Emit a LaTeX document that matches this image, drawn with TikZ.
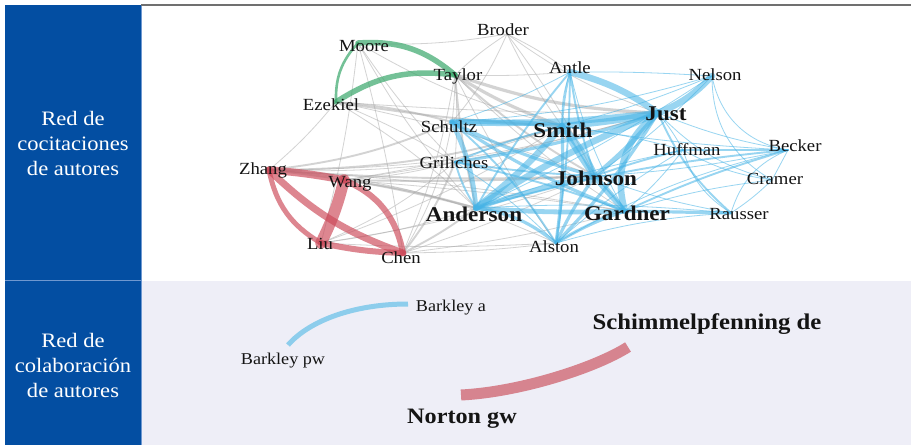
\documentclass[tikz,border=0pt]{standalone}
\usepackage{fontspec}
\setmainfont{Liberation Serif}[FakeStretch=1.1]
\definecolor{panelblue}{HTML}{034EA2}
\definecolor{panelline}{HTML}{6F98D0}
\definecolor{lavender}{HTML}{EEEEF7}
\definecolor{topline}{HTML}{707070}
\definecolor{grayc}{HTML}{A8A8A8}
\definecolor{bluec}{HTML}{45B3E6}
\definecolor{redc}{HTML}{CC4858}
\definecolor{greenc}{HTML}{33A566}
\definecolor{txt}{HTML}{141414}
\definecolor{bkblue}{HTML}{8DCDEC}
\definecolor{bkred}{HTML}{D6848F}
\tikzset{
  ed/.style={line cap=round, opacity=.5},
  gr/.style={ed, draw=grayc, opacity=.5},
  bl/.style={ed, draw=bluec, opacity=.55},
  rd/.style={ed, draw=redc, opacity=.66},
  gn/.style={ed, draw=greenc, opacity=.68},
  w1/.style={line width=0.8pt},
  w2/.style={line width=1.9pt},
  w3/.style={line width=3.2pt},
  w4/.style={line width=4.8pt},
  w5/.style={line width=6.5pt},
  w6/.style={line width=11pt},
  lbl/.style={anchor=base, inner sep=0pt, text=txt, font=\fontsize{17}{20}\selectfont},
  blbl/.style={anchor=base, inner sep=0pt, text=txt, font=\fontsize{21}{24}\selectfont\bfseries},
  side/.style={align=center, text=white, inner sep=0pt, font=\fontsize{20.5}{25}\selectfont}
}
\begin{document}
\begin{tikzpicture}[x=1pt,y=1pt]
\useasboundingbox (0,0) rectangle (911,-445);
% panels
\fill[white] (0,0) rectangle (911,-445);
\fill[lavender] (141,-281) rectangle (911,-445);
\fill[panelblue] (5,-5) rectangle (141,-445);
\draw[panelline, line width=1pt] (5,-280) -- (141,-280);
\draw[panelline, line width=0.8pt] (141,-5) -- (141,-445);
\draw[topline, line width=1.4pt] (141,-5) -- (911,-5);
\node[side] (s1) at (73,-143) {Red de\\cocitaciones\\de autores};
\node[side] (s2) at (73,-365) {Red de\\colaboración\\de autores};
% vertices
\coordinate (vBroder) at (507,-34);
\coordinate (vMoore) at (358,-43);
\coordinate (vTaylor) at (455,-75);
\coordinate (vEzekiel) at (336,-102);
\coordinate (vAntle) at (570,-72);
\coordinate (vNelson) at (712,-76);
\coordinate (vJust) at (658,-113);
\coordinate (vSchultz) at (452,-122);
\coordinate (vSmith) at (562,-126);
\coordinate (vHuffman) at (683,-150);
\coordinate (vBecker) at (788,-150);
\coordinate (vGriliches) at (455,-162);
\coordinate (vZhang) at (269,-170);
\coordinate (vWang) at (344,-180);
\coordinate (vJohnson) at (595,-176);
\coordinate (vCramer) at (772,-180);
\coordinate (vAnderson) at (476,-208);
\coordinate (vGardner) at (625,-211);
\coordinate (vRausser) at (731,-213);
\coordinate (vLiu) at (321,-243);
\coordinate (vAlston) at (556,-243);
\coordinate (vChen) at (403,-253);
% gray edges
\foreach \a/\b/\w/\bend in {
 Broder/Moore/w1/6, Broder/Taylor/w1/-5, Broder/Antle/w1/5, Broder/Smith/w1/-5, Broder/Just/w1/-8,
 Broder/Johnson/w1/5, Broder/Schultz/w1/8,
 Moore/Chen/w1/3, Moore/Griliches/w1/-5, Moore/Anderson/w1/-6, Moore/Smith/w1/-8, Moore/Liu/w1/4,
 Taylor/Smith/w3/-6, Taylor/Just/w3/-8, Taylor/Johnson/w2/-6, Taylor/Anderson/w2/-4, Taylor/Gardner/w1/-6,
 Taylor/Alston/w1/-4, Taylor/Schultz/w1/3, Taylor/Griliches/w1/4, Taylor/Antle/w1/-3, Taylor/Chen/w1/6,
 Ezekiel/Schultz/w2/5, Ezekiel/Smith/w2/-3, Ezekiel/Just/w1/-2, Ezekiel/Zhang/w1/5, Ezekiel/Johnson/w1/4,
 Ezekiel/Griliches/w1/4, Ezekiel/Anderson/w1/6,
 Zhang/Schultz/w2/-8, Zhang/Smith/w2/-8, Zhang/Just/w1/-8, Zhang/Griliches/w1/-4, Zhang/Johnson/w2/-3,
 Zhang/Anderson/w2/4, Zhang/Gardner/w1/3, Zhang/Alston/w1/10,
 Wang/Griliches/w1/-5, Wang/Smith/w1/-5, Wang/Johnson/w2/-2, Wang/Anderson/w2/4, Wang/Just/w1/-4, Wang/Gardner/w1/2,
 Chen/Griliches/w2/-8, Chen/Anderson/w2/-5, Chen/Alston/w1/-3, Chen/Schultz/w1/-10, Chen/Johnson/w1/-4, Chen/Gardner/w1/-4,
 Liu/Anderson/w1/-5, Liu/Griliches/w1/-8, Liu/Johnson/w1/-5, Liu/Alston/w1/-3, Liu/Smith/w1/-6}
  \draw[gr,\w] (v\a) to[bend left=\bend] (v\b);
% blue edges
\foreach \a/\b/\w/\bend in {
 Schultz/Just/w5/-4, Schultz/Smith/w4/3, Schultz/Johnson/w3/-6, Schultz/Anderson/w4/10, Schultz/Gardner/w3/-6,
 Schultz/Alston/w2/8, Schultz/Antle/w1/-5,
 Griliches/Just/w3/-5, Griliches/Smith/w2/4, Griliches/Johnson/w2/-3, Griliches/Gardner/w2/4, Griliches/Anderson/w2/-8,
 Griliches/Alston/w1/6,
 Smith/Just/w5/-3, Smith/Johnson/w5/8, Smith/Anderson/w5/6, Smith/Gardner/w4/-8, Smith/Alston/w3/5,
 Smith/Antle/w2/5, Smith/Huffman/w1/4, Smith/Becker/w1/-3,
 Just/Johnson/w4/5, Just/Anderson/w5/-5, Just/Gardner/w5/-35, Just/Alston/w3/6, Antle/Just/w5/10,
 Just/Nelson/w5/-12, Just/Huffman/w1/5, Just/Becker/w1/-6, Just/Cramer/w1/-15, Just/Rausser/w2/-12,
 Antle/Nelson/w1/2, Antle/Johnson/w2/-5, Antle/Alston/w2/4, Antle/Anderson/w2/-5, Antle/Gardner/w1/-8,
 Antle/Smith/w1/-10,
 Nelson/Smith/w1/4, Nelson/Johnson/w1/5, Nelson/Becker/w1/-35, Nelson/Cramer/w1/-30, Nelson/Schultz/w1/6,
 Nelson/Anderson/w1/4,
 Johnson/Anderson/w4/-3, Johnson/Gardner/w3/5, Johnson/Alston/w3/-5, Johnson/Huffman/w2/3, Johnson/Becker/w1/-4,
 Johnson/Rausser/w1/-5,
 Anderson/Gardner/w4/-3, Anderson/Alston/w3/15, Anderson/Rausser/w1/4, Anderson/Becker/w2/5, Anderson/Huffman/w1/4,
 Gardner/Alston/w3/-6, Gardner/Rausser/w3/0, Gardner/Becker/w2/4, Gardner/Huffman/w1/-6, Gardner/Cramer/w1/5,
 Alston/Rausser/w1/6, Alston/Becker/w1/8, Alston/Huffman/w1/5,
 Huffman/Becker/w2/0, Huffman/Rausser/w1/-20, Becker/Rausser/w1/-25, Becker/Cramer/w1/0, Cramer/Rausser/w1/5,
 Huffman/Cramer/w1/-10}
  \draw[bl,\w] (v\a) to[bend left=\bend] (v\b);
% green edges
\draw[gn,line width=5.5pt] (vMoore) to[bend left=22] (vTaylor);
\draw[gn,line width=2.6pt] (vMoore) to[bend right=22] (vEzekiel);
\draw[gn,line width=5.5pt] (vEzekiel) to[bend left=20] (vTaylor);
% red edges
\draw[rd,line width=7.5pt] (vZhang) to[bend left=3] (vWang);
\draw[rd,line width=6pt] (vWang) to[bend left=28] (vChen);
\draw[rd,line width=7pt] (vZhang) to[bend right=12] (vChen);
\draw[rd,line width=5pt] (vZhang) to[bend right=24] (vLiu);
\draw[rd,line width=11.5pt] (vWang) to[bend left=6] (vLiu);
\draw[rd,line width=6pt] (vLiu) to[bend right=5] (vChen);
% labels
\node[lbl] (Broder) at (503,-35) {Broder};
\node[lbl] (Moore) at (364,-51) {Moore};
\node[lbl] (Taylor) at (458,-80) {Taylor};
\node[lbl] (Ezekiel) at (331,-110) {Ezekiel};
\node[lbl] (Antle) at (570,-73) {Antle};
\node[lbl] (Nelson) at (715,-80) {Nelson};
\node[blbl] (Just) at (666,-120) {Just};
\node[lbl] (Schultz) at (449,-132) {Schultz};
\node[blbl] (Smith) at (563,-137) {Smith};
\node[lbl] (Huffman) at (687,-155) {Huffman};
\node[lbl] (Becker) at (795,-151) {Becker};
\node[lbl] (Griliches) at (454,-168) {Griliches};
\node[lbl] (Zhang) at (263,-174) {Zhang};
\node[lbl] (Wang) at (350,-187) {Wang};
\node[blbl] (Johnson) at (596,-185) {Johnson};
\node[lbl] (Cramer) at (775,-184) {Cramer};
\node[blbl] (Anderson) at (474,-221) {Anderson};
\node[blbl] (Gardner) at (627,-220) {Gardner};
\node[lbl] (Rausser) at (739,-219) {Rausser};
\node[lbl] (Liu) at (320,-249) {Liu};
\node[lbl] (Alston) at (554,-252) {Alston};
\node[lbl] (Chen) at (401,-263) {Chen};
% collaboration network
\coordinate (eBpw) at (288,-345);
\coordinate (eBa) at (408,-304);
\coordinate (eSch) at (628,-347);
\coordinate (eNor) at (461,-395);
\draw[bkblue, line width=5pt] (eBpw) .. controls (310,-320) and (355,-304) .. (eBa);
\draw[bkred, line width=11pt] (eSch) .. controls (595,-368) and (520,-392) .. (eNor);
\node[lbl, font=\fontsize{16.5}{20}\selectfont] (Ba) at (451,-311) {Barkley a};
\node[lbl, font=\fontsize{16.5}{20}\selectfont] (Bpw) at (283,-364) {Barkley pw};
\node[blbl, font=\fontsize{22.5}{26}\selectfont\bfseries] (Sch) at (707,-329) {Schimmelpfenning de};
\node[blbl, font=\fontsize{22}{26}\selectfont\bfseries] (Nor) at (462,-423) {Norton gw};
\end{tikzpicture}
\end{document}
